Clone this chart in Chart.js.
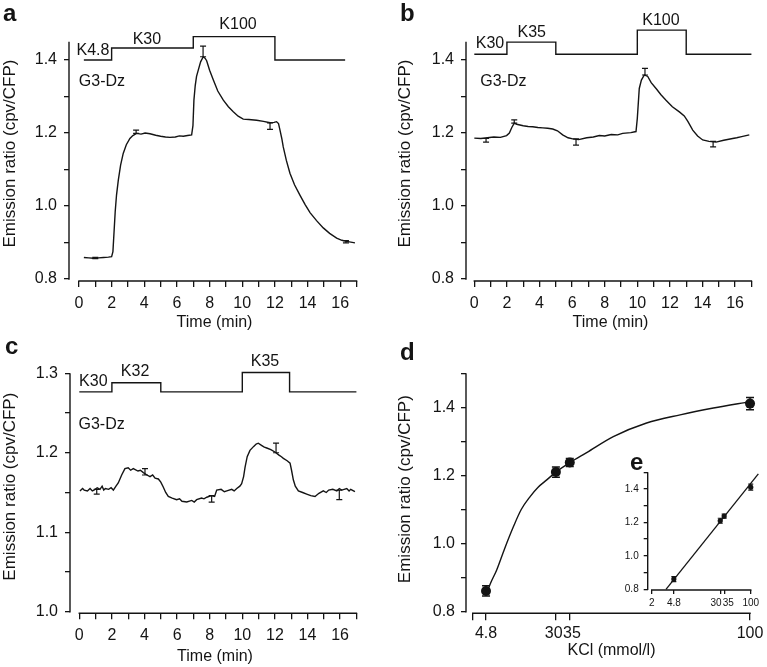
<!DOCTYPE html>
<html lang="en">
<head>
<meta charset="UTF-8">
<title>G3-Dz emission ratio vs KCl</title>
<script src="https://cdn.jsdelivr.net/npm/chart.js"></script>
<style>
  body { margin: 0; background: #fff; }
  #fig { position: relative; width: 767px; height: 667px; }
  #fig canvas { position: absolute; }
</style>
</head>
<body>
<div id="fig">
  <canvas id="panelA" width="383" height="333" style="left:0;top:0"></canvas>
  <canvas id="panelB" width="384" height="333" style="left:383px;top:0"></canvas>
  <canvas id="panelC" width="383" height="334" style="left:0;top:333px"></canvas>
  <canvas id="panelD" width="384" height="334" style="left:383px;top:333px"></canvas>
  <canvas id="panelE" width="152" height="165" style="left:615px;top:455px"></canvas>
</div>
<script>
// ---- data ----
const timeTicks = [0,1,2,3,4,5,6,7,8,9,10,11,12,13,14,15,16,17];
const timeLabels = ['0','','2','','4','','6','','8','','10','','12','','14','','16',''];
const ratioTicks = [0.8,0.9,1.0,1.1,1.2,1.3,1.4];
const ratioLabels = ['0.8','','1.0','','1.2','','1.4'];
const ratioTicksC = [1.0,1.05,1.1,1.15,1.2,1.25,1.3];
const ratioLabelsC = ['1.0','','1.1','','1.2','','1.3'];
const ratioTicksD = [0.8,0.9,1.0,1.1,1.2,1.3,1.4,1.5];
const ratioLabelsD = ['0.8','','1.0','','1.2','','1.4',''];
const kclTicksD = [0,4.8,30,35,100];
// padded so that "30" and "35" sit side by side as in the figure
const kclLabelsD = ['','4.8','30 ',' 35','100'];
const kclTicksE = [2,4.8,30,35,100];
const kclLabelsE = ['2','4.8','30   ','   35','100'];

// panel a: K4.8 -> K30 -> K100 -> K4.8
const aTime = [0.3,0.6,0.9,1.2,1.5,1.8,2.0,2.08,2.15,2.22,2.3,2.41,2.55,2.71,2.9,3.12,3.3,3.53,3.8,4.05,4.35,4.7,5.0,5.3,5.57,5.9,6.15,6.39,6.65,6.9,6.98,7.04,7.12,7.2,7.31,7.45,7.61,7.72,7.82,8.0,8.23,8.5,8.84,9.15,9.45,9.75,10.06,10.4,10.88,11.3,11.7,11.95,12.1,12.22,12.31,12.42,12.51,12.7,12.92,13.2,13.53,13.85,14.15,14.55,14.96,15.35,15.78,16.1,16.39,16.65,16.9];
const aRatio = [0.859,0.858,0.857,0.858,0.859,0.860,0.861,0.875,0.93,0.985,1.03,1.071,1.112,1.144,1.168,1.185,1.193,1.199,1.197,1.200,1.198,1.194,1.191,1.189,1.188,1.189,1.192,1.191,1.193,1.195,1.22,1.29,1.33,1.355,1.373,1.395,1.409,1.405,1.398,1.372,1.345,1.315,1.29,1.272,1.258,1.246,1.238,1.237,1.235,1.232,1.228,1.229,1.231,1.226,1.208,1.185,1.162,1.125,1.09,1.058,1.03,1.004,0.982,0.96,0.94,0.925,0.912,0.906,0.903,0.901,0.899];
const aErrTime = [1.0,3.5,7.6,11.7,16.35];
const aErrLow = [0.856,1.199,1.409,1.210,0.899];
const aErrHigh = [0.859,1.208,1.438,1.228,0.905];
const aStimTime = [0.3,2,7,12,16.3];
const aStimLevel = [1.40,1.433,1.464,1.40,1.40];

// panel b: K30 -> K35 -> K30 -> K100 -> K30
const bTime = [0,0.4,0.8,1.2,1.6,1.98,2.15,2.3,2.45,2.6,3.0,3.3,3.58,3.9,4.2,4.5,4.81,5.1,5.42,5.75,6.04,6.4,6.9,7.3,7.67,8.0,8.4,8.8,9.1,9.6,9.92,10.0,10.12,10.25,10.43,10.64,10.85,11.15,11.45,11.76,12.15,12.58,12.88,13.1,13.4,13.7,14.01,14.4,14.83,15.3,15.85,16.1,16.4,16.87];
const bRatio = [1.186,1.185,1.187,1.189,1.188,1.193,1.200,1.215,1.227,1.224,1.220,1.218,1.217,1.215,1.214,1.213,1.211,1.206,1.195,1.187,1.184,1.182,1.187,1.189,1.193,1.192,1.196,1.195,1.199,1.201,1.204,1.24,1.322,1.345,1.359,1.355,1.338,1.322,1.305,1.29,1.272,1.258,1.247,1.232,1.208,1.192,1.181,1.177,1.175,1.180,1.185,1.187,1.190,1.195];
const bErrTime = [0.72,2.45,6.24,10.47,14.65];
const bErrLow = [1.175,1.227,1.167,1.359,1.162];
const bErrHigh = [1.185,1.236,1.184,1.377,1.177];
const bStimTime = [0,2,5,10,13,17];
const bStimLevel = [1.416,1.449,1.416,1.482,1.416,1.416];

// panel c: K30 -> K32 -> K30 -> K35 -> K30
const cTime = [0.04,0.2,0.3,0.5,0.66,0.8,0.9,1.1,1.27,1.4,1.5,1.6,1.8,1.95,2.09,2.25,2.39,2.6,2.8,3.0,3.15,3.31,3.6,3.75,3.93,4.15,4.34,4.5,4.65,4.85,5.0,5.15,5.3,5.46,5.7,5.97,6.15,6.3,6.59,6.9,7.05,7.2,7.5,7.65,7.82,8.1,8.3,8.43,8.7,8.9,9.05,9.35,9.5,9.66,9.85,9.96,10.08,10.17,10.3,10.47,10.7,10.85,10.98,11.2,11.35,11.5,11.75,12.0,12.25,12.4,12.52,12.75,12.93,13.02,13.13,13.25,13.44,13.7,13.95,14.2,14.46,14.7,14.97,15.15,15.3,15.55,15.8,15.95,16.1,16.41,16.55,16.65,16.91];
const cRatio = [1.152,1.155,1.153,1.152,1.155,1.152,1.153,1.156,1.154,1.158,1.153,1.155,1.154,1.156,1.153,1.158,1.162,1.172,1.180,1.181,1.178,1.180,1.177,1.178,1.175,1.172,1.170,1.172,1.168,1.167,1.163,1.157,1.150,1.145,1.143,1.141,1.142,1.139,1.138,1.140,1.138,1.141,1.143,1.142,1.144,1.146,1.145,1.153,1.154,1.151,1.152,1.154,1.152,1.155,1.158,1.161,1.170,1.182,1.195,1.203,1.208,1.211,1.212,1.209,1.207,1.206,1.204,1.201,1.197,1.195,1.193,1.190,1.187,1.178,1.166,1.158,1.152,1.150,1.148,1.146,1.145,1.149,1.152,1.150,1.153,1.154,1.152,1.155,1.153,1.155,1.152,1.154,1.151];
const cErrTime = [1.07,4.03,8.12,12.07,15.95];
const cErrLow = [1.148,1.172,1.138,1.200,1.141];
const cErrHigh = [1.154,1.180,1.146,1.212,1.153];
const cStimTime = [0,2,5,10,12.9,17];
const cStimLevel = [1.2766,1.288,1.2766,1.301,1.2766,1.2766];

// panels d/e: dose response
const kcl = [4.8,30,35,100];
const kclRatio = [0.861,1.21,1.238,1.411];
const kclSem = [0.015,0.015,0.012,0.018];
const dFitKcl = [4.8,6.5,8.65,11.5,14.7,17.5,20.7,23.5,26.7,30.3,35.1,41.1,50.7,62.7,74.8,86.8,100];
const dFitRatio = [0.85,0.885,0.9225,0.985,1.05,1.10,1.138,1.165,1.187,1.212,1.238,1.267,1.314,1.354,1.378,1.398,1.417];
const eFitKcl = [3.52,135];
const eFitRatio = [0.80,1.49];

// ---- drawing ----
const INK = '#141414';
Chart.defaults.font.family = "'Liberation Sans', Arial, sans-serif";
Chart.defaults.color = INK;

const pts = (xs, ys) => xs.map((x, i) => ({x, y: ys[i]}));

function lineSet(xs, ys, extra) {
  return Object.assign({data: pts(xs, ys), showLine: true, borderColor: INK, borderWidth: 1.4,
    pointRadius: 0, tension: 0, fill: false}, extra || {});
}

// axis lines (detached), error bars, text notes and the panel letter
function deco(d) {
  return {
    id: 'deco',
    afterDatasetsDraw(chart) {
      const {ctx, chartArea: ca} = chart;
      const x = chart.scales.x, y = chart.scales.y;
      ctx.save();
      ctx.strokeStyle = INK;
      ctx.lineWidth = 1.4;
      ctx.beginPath();
      ctx.moveTo(ca.left, y.getPixelForValue(d.yAxis[0]) + 0.7);
      ctx.lineTo(ca.left, y.getPixelForValue(d.yAxis[1]));
      ctx.moveTo(x.getPixelForValue(d.xAxis[0]) - 0.7, ca.bottom);
      ctx.lineTo(x.getPixelForValue(d.xAxis[1]) + 0.7, ca.bottom);
      ctx.stroke();

      if (d.err) {
        ctx.lineWidth = d.err.width || 1.2;
        const cap = d.err.cap;
        d.err.x.forEach((v, i) => {
          const px = x.getPixelForValue(v);
          const y1 = y.getPixelForValue(d.err.lo[i]);
          const y2 = y.getPixelForValue(d.err.hi[i]);
          ctx.beginPath();
          ctx.moveTo(px, y1); ctx.lineTo(px, y2);
          ctx.moveTo(px - cap, y1); ctx.lineTo(px + cap, y1);
          ctx.moveTo(px - cap, y2); ctx.lineTo(px + cap, y2);
          ctx.stroke();
        });
      }

      ctx.fillStyle = INK;
      ctx.textAlign = 'center';
      ctx.textBaseline = 'middle';
      ctx.font = "16px 'Liberation Sans', Arial, sans-serif";
      (d.notes || []).forEach(n => {
        ctx.fillText(n.text, x.getPixelForValue(n.x), y.getPixelForValue(n.y));
      });

      ctx.textAlign = 'left';
      ctx.textBaseline = 'alphabetic';
      ctx.font = "bold 24px 'Liberation Sans', Arial, sans-serif";
      ctx.fillText(d.letter, d.letterAt[0], d.letterAt[1]);
      ctx.restore();
    }
  };
}

function axis(o) {
  return {
    type: o.type || 'linear',
    min: o.min, max: o.max,
    afterFit: s => { if (s.isHorizontal()) s.height = o.size; else s.width = o.size; },
    afterBuildTicks: s => { s.ticks = o.ticks.map(v => ({value: v})); },
    grid: {drawOnChartArea: false, drawTicks: true, tickLength: o.tick, color: INK, lineWidth: 1.3},
    border: {display: false},
    ticks: {autoSkip: false, maxRotation: 0, minRotation: 0, padding: o.pad, color: INK,
      font: {size: o.font || 16}, callback: (v, i) => o.labels[i]},
    title: o.title ? {display: true, text: o.title, color: INK, font: {size: o.titleSize || 16},
      padding: o.titlePad} : {display: false}
  };
}

function panel(id, p) {
  const canvas = document.getElementById(id);
  return new Chart(canvas, {
    type: 'scatter',
    data: {datasets: p.datasets},
    options: {
      responsive: false,
      animation: false,
      devicePixelRatio: 1,
      layout: {padding: {left: 0, bottom: 0, top: p.padTop, right: p.padRight}},
      plugins: {legend: {display: false}, tooltip: {enabled: false}},
      scales: {x: axis(p.x), y: axis(p.y)}
    },
    plugins: [deco(p.deco)]
  });
}

const timeAxis = (min, max, titlePad) => ({min, max, size: 52, ticks: timeTicks, labels: timeLabels,
  tick: 6, pad: 7, title: 'Time (min)', titlePad: {top: 0, bottom: titlePad}});
const ratioTitle = 'Emission ratio (cpv/CFP)';

panel('panelA', {
  padTop: 26, padRight: 23,
  x: timeAxis(-0.61, 17.21, 0.5),
  y: {min: 0.7945, max: 1.4932, size: 69, ticks: ratioTicks, labels: ratioLabels, tick: 5, pad: 7,
    title: ratioTitle, titleSize: 17, titlePad: {top: 0, bottom: 0}},
  datasets: [lineSet(aStimTime, aStimLevel, {stepped: true}), lineSet(aTime, aRatio)],
  deco: {yAxis: [0.8, 1.45], xAxis: [0, 17], letter: 'a', letterAt: [3, 21],
    err: {x: aErrTime, lo: aErrLow, hi: aErrHigh, cap: 3},
    notes: [{text: 'K4.8', x: 0.86, y: 1.427}, {text: 'K30', x: 4.16, y: 1.455},
            {text: 'K100', x: 9.74, y: 1.496}, {text: 'G3-Dz', x: 1.41, y: 1.34}]}
});

panel('panelB', {
  padTop: 26, padRight: 12,
  x: timeAxis(-0.51, 17.22, 0.5),
  y: {min: 0.7945, max: 1.4932, size: 83, ticks: ratioTicks, labels: ratioLabels, tick: 5, pad: 7,
    title: ratioTitle, titleSize: 17, titlePad: {top: 11.8, bottom: 0}},
  datasets: [lineSet(bStimTime, bStimLevel, {stepped: true}), lineSet(bTime, bRatio)],
  deco: {yAxis: [0.8, 1.45], xAxis: [0, 17], letter: 'b', letterAt: [17, 21],
    err: {x: bErrTime, lo: bErrLow, hi: bErrHigh, cap: 3},
    notes: [{text: 'K30', x: 0.96, y: 1.446}, {text: 'K35', x: 3.52, y: 1.475},
            {text: 'K100', x: 11.45, y: 1.508}, {text: 'G3-Dz', x: 1.78, y: 1.34}]}
});

panel('panelC', {
  padTop: 27, padRight: 23,
  x: Object.assign(timeAxis(-0.57, 17.22, 1.2), {size: 53.7}),
  y: {min: 0.998, max: 1.3167, size: 70, ticks: ratioTicksC, labels: ratioLabelsC, tick: 5, pad: 7,
    title: ratioTitle, titleSize: 17, titlePad: {top: 0, bottom: 0}},
  datasets: [lineSet(cStimTime, cStimLevel, {stepped: true}), lineSet(cTime, cRatio)],
  deco: {yAxis: [1.0, 1.3], xAxis: [0, 17], letter: 'c', letterAt: [5, 21],
    err: {x: cErrTime, lo: cErrLow, hi: cErrHigh, cap: 3},
    notes: [{text: 'K30', x: 0.86, y: 1.2894}, {text: 'K32', x: 3.42, y: 1.302},
            {text: 'K35', x: 11.39, y: 1.3146}, {text: 'G3-Dz', x: 1.37, y: 1.235}]}
});

panel('panelD', {
  padTop: 32, padRight: 10,
  x: {min: -2.42, max: 102.5, size: 53.7, ticks: kclTicksD, labels: kclLabelsD, tick: 7, pad: 3.4,
    title: 'KCl (mmol/l)', titlePad: {top: 0, bottom: 6.4}},
  y: {min: 0.7953, max: 1.5244, size: 83, ticks: ratioTicksD, labels: ratioLabelsD, tick: 5, pad: 6,
    title: ratioTitle, titleSize: 17, titlePad: {top: 11.8, bottom: 0}},
  datasets: [
    lineSet(dFitKcl, dFitRatio, {tension: 0.3, cubicInterpolationMode: 'monotone'}),
    {data: pts(kcl, kclRatio), pointRadius: 5, pointBackgroundColor: INK, pointBorderColor: INK,
     pointBorderWidth: 0, showLine: false}
  ],
  deco: {yAxis: [0.8, 1.5], xAxis: [0, 100], letter: 'd', letterAt: [17, 27],
    err: {x: kcl, lo: kclRatio.map((v, i) => v - kclSem[i]), hi: kclRatio.map((v, i) => v + kclSem[i]), cap: 4, width: 1.4}}
});

panel('panelE', {
  padTop: 13, padRight: 5,
  x: {type: 'logarithmic', min: 1.71, max: 156, size: 30, ticks: kclTicksE, labels: kclLabelsE,
    tick: 4, pad: 3.7, font: 10},
  y: {min: 0.7958, max: 1.5256, size: 32.7, ticks: ratioTicksD, labels: ratioLabelsD, tick: 4, pad: 5, font: 10},
  datasets: [
    lineSet(eFitKcl, eFitRatio, {borderWidth: 1.3}),
    {data: pts(kcl, kclRatio), pointRadius: 2.6, pointBackgroundColor: INK, pointBorderColor: INK,
     pointBorderWidth: 0, showLine: false}
  ],
  deco: {yAxis: [0.8, 1.5], xAxis: [2, 100], letter: 'e', letterAt: [15, 15],
    err: {x: kcl, lo: kclRatio.map((v, i) => v - kclSem[i]), hi: kclRatio.map((v, i) => v + kclSem[i]), cap: 2.5, width: 1.1}}
});
</script>
</body>
</html>
